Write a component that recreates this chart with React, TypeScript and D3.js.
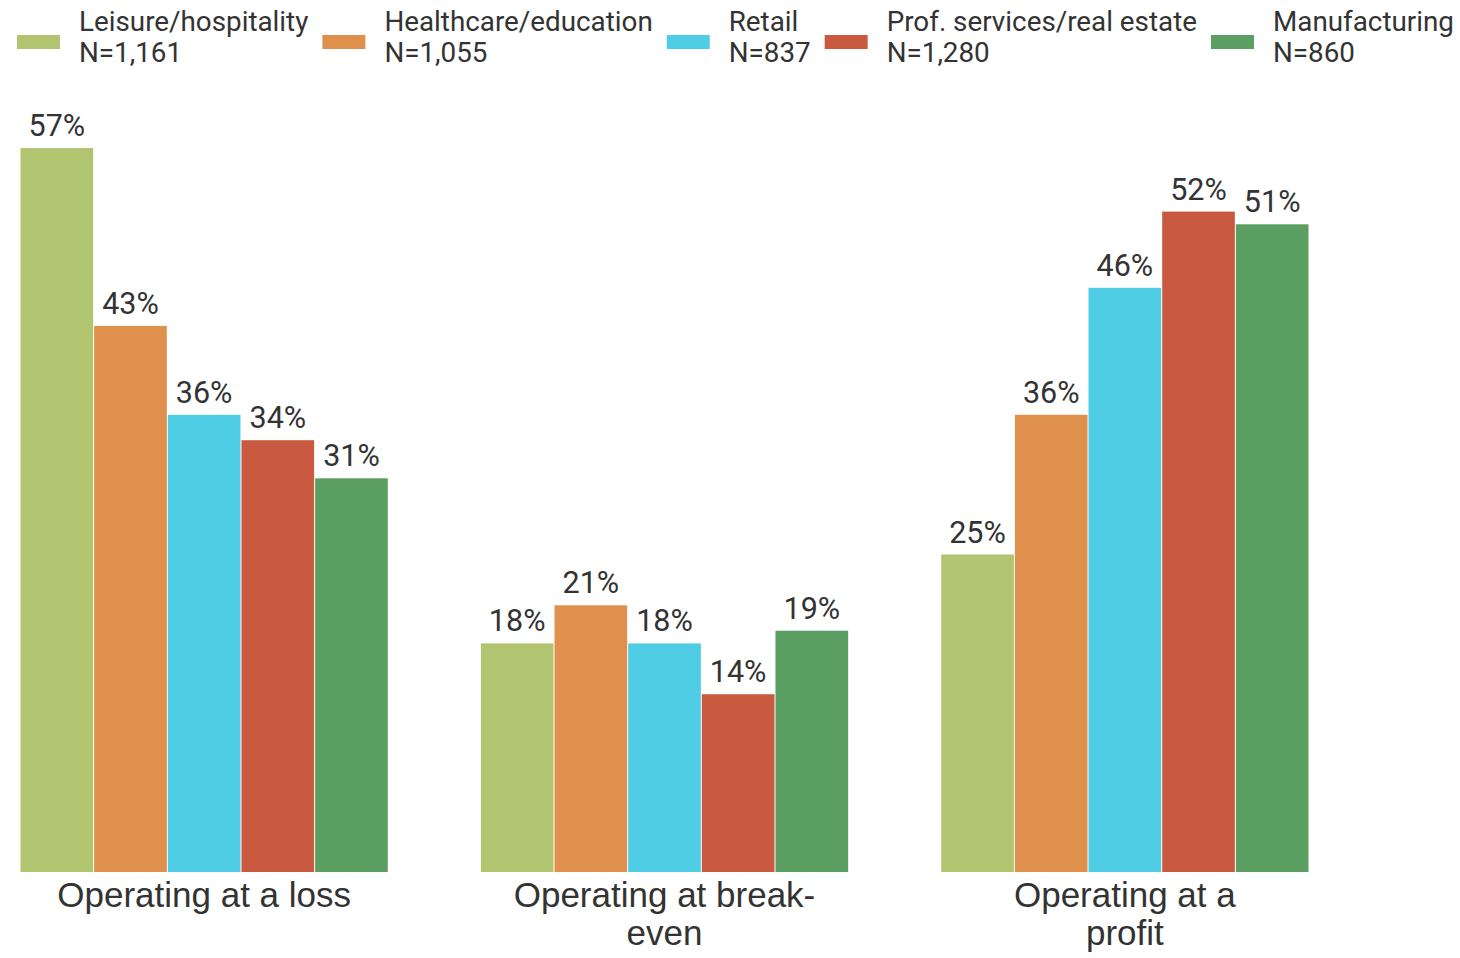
import React, { useEffect, useRef } from "react";
import * as d3 from "d3";

const categories = ["Operating at a loss", "Operating at break-even", "Operating at a profit"];
const seriesNames = ["Leisure/hospitality", "Healthcare/education", "Retail", "Prof. services/real estate", "Manufacturing"];
const seriesN = ["N=1,161", "N=1,055", "N=837", "N=1,280", "N=860"];
const seriesColors = ["#b1c46f", "#de904c", "#4fcde5", "#c95a40", "#5b9e61"];
const leisure = [57, 18, 25];
const healthcare = [43, 21, 36];
const retail = [36, 18, 46];
const profServices = [34, 14, 52];
const manufacturing = [31, 19, 51];
const seriesValues = [leisure, healthcare, retail, profServices, manufacturing];

const W = 1460;
const H = 958;

export default function App() {
  const ref = useRef<SVGSVGElement | null>(null);

  useEffect(() => {
    const svg = d3.select(ref.current);
    svg.selectAll("*").remove();

    const x0 = d3.scaleBand<string>().domain(categories).range([20, 1309]).paddingInner(0.2).paddingOuter(0);
    const x1 = d3.scaleBand<string>().domain(seriesNames).range([0, x0.bandwidth()]).padding(0);
    const y = d3.scaleLinear().domain([0, 60]).range([872, 110]);

    // Legend
    const legend = svg.append("g").attr("font-family", "Roboto, sans-serif").attr("font-size", 27.8).attr("fill", "#333");
    let lx = 17;
    seriesNames.forEach((name, i) => {
      const g = legend.append("g");
      g.append("rect").attr("x", lx).attr("y", 35).attr("width", 43).attr("height", 14).attr("fill", seriesColors[i]);
      const t = g.append("text").attr("x", lx + 62).attr("y", 31);
      t.append("tspan").attr("x", lx + 62).attr("y", 31).text(name);
      t.append("tspan").attr("x", lx + 62).attr("y", 62).text(seriesN[i]);
      const w = (t.node() as SVGTextElement).getBBox().width;
      lx = lx + 62 + w + 14;
    });

    // Bars
    const groups = svg.append("g").selectAll("g").data(categories).join("g")
      .attr("transform", (c) => `translate(${x0(c)},0)`);

    groups.each(function (c, ci) {
      const g = d3.select(this);
      seriesNames.forEach((s, si) => {
        const v = seriesValues[si][ci];
        const bx = x1(s) as number;
        g.append("rect")
          .attr("x", bx + 0.5)
          .attr("y", y(v))
          .attr("width", x1.bandwidth() - 1)
          .attr("height", y(0) - y(v))
          .attr("fill", seriesColors[si]);
        g.append("text")
          .attr("x", bx + x1.bandwidth() / 2)
          .attr("y", y(v) - 12)
          .attr("text-anchor", "middle")
          .attr("font-family", "Roboto, sans-serif")
          .attr("font-size", 30.5)
          .attr("fill", "#333")
          .text(`${v}%`);
      });
    });

    // Category labels with wrapping
    const maxW = 304;
    categories.forEach((c) => {
      const cx = (x0(c) as number) + x0.bandwidth() / 2;
      const text = svg.append("text")
        .attr("x", cx)
        .attr("y", 907)
        .attr("text-anchor", "middle")
        .attr("font-family", "'Liberation Sans', Arial, sans-serif")
        .attr("font-size", 35)
        .attr("fill", "#333");
      const tokens = c.replace(/-/g, "-\u0000").split(/(?<=\s)|\u0000/).filter((t) => t.length);
      const lines: string[] = [];
      let cur = "";
      const probe = text.append("tspan");
      tokens.forEach((tok) => {
        const trial = cur + tok;
        probe.text(trial.trim());
        if ((probe.node() as SVGTSpanElement).getComputedTextLength() > maxW && cur.length) {
          lines.push(cur.trim());
          cur = tok;
        } else {
          cur = trial;
        }
      });
      if (cur.trim().length) lines.push(cur.trim());
      probe.remove();
      lines.forEach((ln, i) => {
        text.append("tspan").attr("x", cx).attr("y", 907 + i * 38).text(ln);
      });
    });
  }, []);

  return (
    <svg ref={ref} width={W} height={H} style={{ display: "block", position: "absolute", left: 0, top: 0, background: "#fff" }} />
  );
}
